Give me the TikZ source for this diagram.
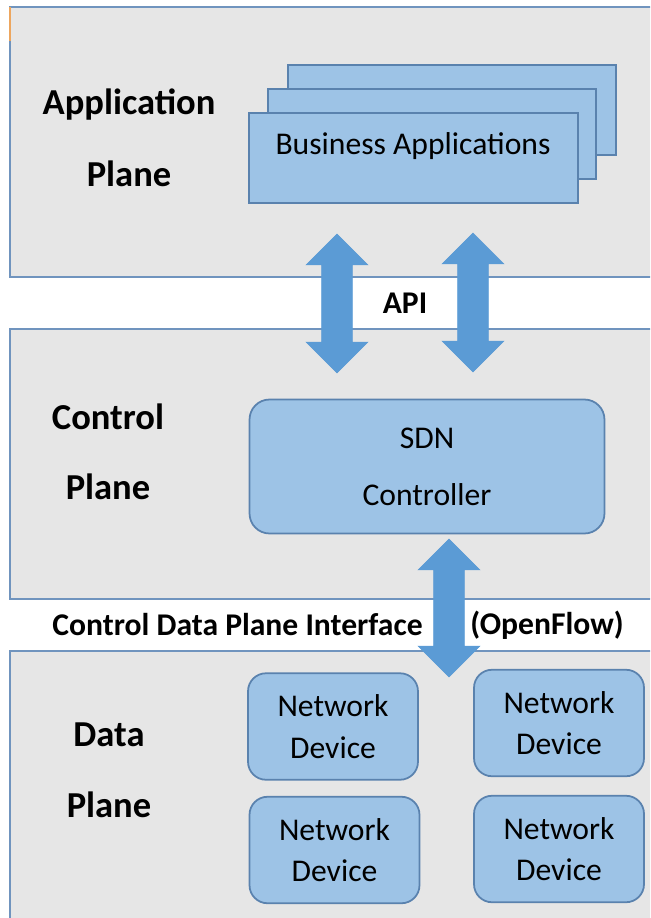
\documentclass[tikz,border=0pt]{standalone}
\usepackage{fontspec}
\setmainfont{Carlito}
\usetikzlibrary{shapes.arrows}

\definecolor{panelfill}{HTML}{E6E6E6}
\definecolor{paneldraw}{HTML}{7094BE}
\definecolor{boxfill}{HTML}{9DC3E6}
\definecolor{boxdraw}{HTML}{5A82AE}
\definecolor{arrowfill}{HTML}{5B9BD5}

\begin{document}
\begin{tikzpicture}[x=0.02cm, y=-0.02cm,
        plane/.style = {draw=paneldraw, fill=panelfill, line width=1.1pt},
        planelabel/.style = {font=\fontsize{20.8}{25}\selectfont\bfseries, align=center},
        appbox/.style = {draw=boxdraw, fill=boxfill, line width=1pt, minimum width=6.57cm, minimum height=1.8cm, inner sep=0pt},
        devbox/.style = {draw=boxdraw, fill=boxfill, line width=1pt, rounded corners=0.36cm, minimum width=3.4cm, minimum height=2.13cm, align=center, font=\fontsize{18}{21.6}\selectfont},
        dblarrow/.style = {double arrow, fill=arrowfill, draw=arrowfill, inner xsep=0pt, inner ysep=0.3cm, rotate=90, double arrow tip angle=90, double arrow head extend=0.31cm},
        iface/.style = {font=\fontsize{18}{21.6}\selectfont\bfseries},]
    \useasboundingbox (0,0) rectangle (650,918);
    \clip (0,0) rectangle (650,918);

    % planes
    \draw[plane] (10,7) rectangle (670,277);
    \draw[plane] (10,329) rectangle (670,599);
    \draw[plane] (10,651) rectangle (670,940);
    \draw[color=orange!60!brown!70, line width=1.1pt] (10,7) -- (10,41);

    \node[planelabel] (applbl) at (129,105) {Application};
    \node[planelabel] (appplane) at (129,174) {Plane};
    \node[planelabel] (ctllbl) at (108,417) {Control};
    \node[planelabel] (ctlplane) at (108,487) {Plane};
    \node[planelabel] (datalbl) at (109,735) {Data};
    \node[planelabel] (dataplane) at (109,805) {Plane};

    % business applications
    \node[appbox] (ba3) at (452,110) {};
    \node[appbox] (ba2) at (432,134) {};
    \node[appbox] (ba1) at (413.5,158) {};
    \node[font=\fontsize{18}{21.6}\selectfont] (batext) at (413,146) {Business Applications};

    % controller
    \node[devbox, rounded corners=0.4cm, minimum width=7.1cm, minimum height=2.68cm] (sdn) at (427,466.5) {SDN\\[11pt]Controller};

    % devices
    \node[devbox] (dev1) at (333,726.5) {Network\\[2pt]Device};
    \node[devbox] (dev2) at (559,723) {Network\\[2pt]Device};
    \node[devbox] (dev3) at (334.5,850) {Network\\[2pt]Device};
    \node[devbox] (dev4) at (559,849) {Network\\[2pt]Device};

    % interfaces
    \node[dblarrow, minimum height=2.78cm] (api1) at (337,303.5) {};
    \node[dblarrow, minimum height=2.78cm] (api2) at (473,302.5) {};
    \node[iface] (apilbl) at (405,303) {API};
    \node[dblarrow, minimum height=2.76cm] (cdpi) at (449,608) {};
    \node[iface] (cdpilbl) at (237.5,625) {Control Data Plane Interface};
    \node[iface] (oflbl) at (547,625) {(OpenFlow)};
\end{tikzpicture}
\end{document}
